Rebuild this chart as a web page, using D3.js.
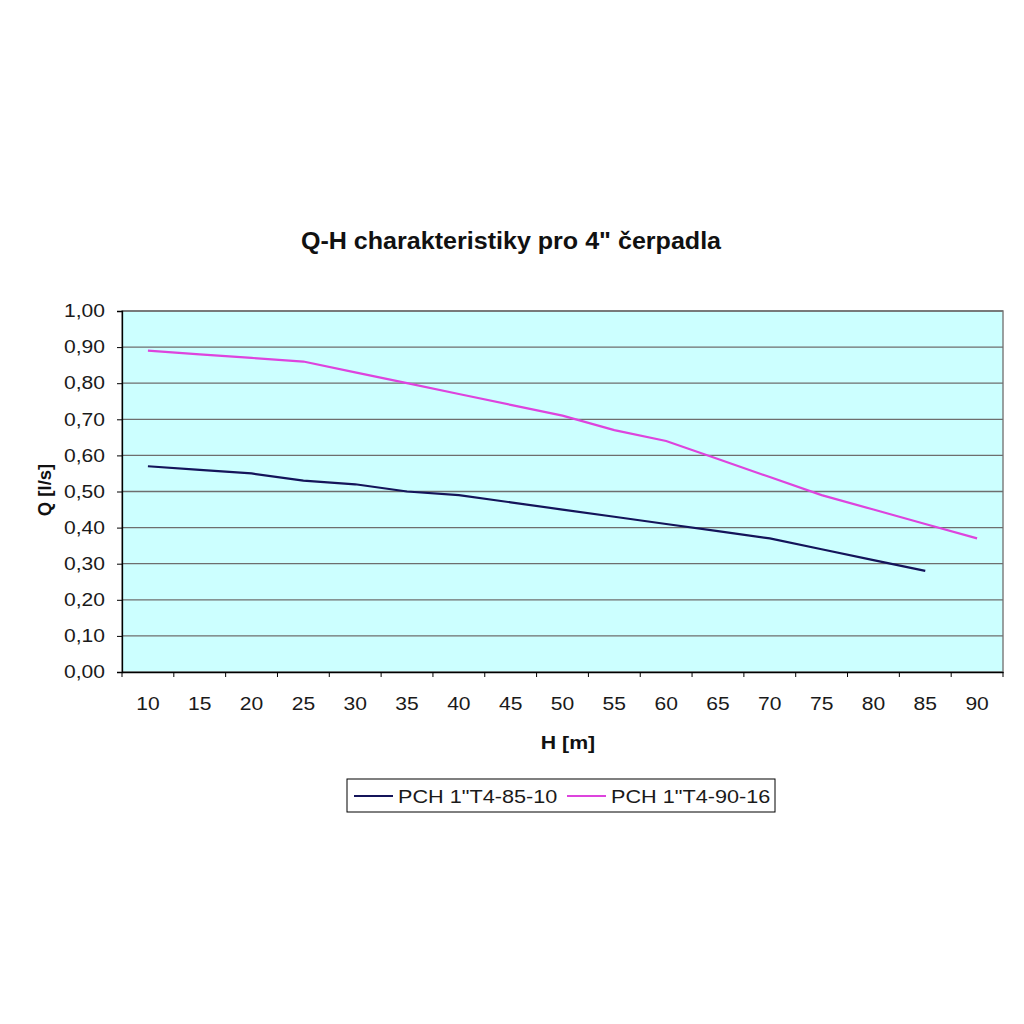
<!DOCTYPE html>
<html><head><meta charset="utf-8">
<script src="https://cdn.jsdelivr.net/npm/d3@7/dist/d3.min.js"></script>
<style>body{margin:0;background:#fff}svg{font-family:"Liberation Sans",Arial,sans-serif}</style>
</head><body><svg id="c" width="1024" height="1024"></svg>
<script>
const categories = [10,15,20,25,30,35,40,45,50,55,60,65,70,75,80,85,90];
const series1Name = 'PCH 1"T4-85-10';
const series1 = [0.57,0.56,0.55,0.53,0.52,0.50,0.49,0.47,0.45,0.43,0.41,0.39,0.37,0.34,0.31,0.28,null];
const series2Name = 'PCH 1"T4-90-16';
const series2 = [0.89,0.88,0.87,0.86,0.83,0.80,0.77,0.74,0.71,0.67,0.64,0.59,0.54,0.49,0.45,0.41,0.37];
const yTicks = [0,0.1,0.2,0.3,0.4,0.5,0.6,0.7,0.8,0.9,1.0];

const svg = d3.select("#c");
const L=122, R=1003, T=311, B=672;
const x = d3.scaleBand().domain(categories).range([L,R]);
const y = d3.scaleLinear().domain([0,1]).range([B,T]);

function stretch(sel,k){
  sel.each(function(){
    const w=this.getComputedTextLength();
    d3.select(this).attr("textLength",w*k).attr("lengthAdjust","spacingAndGlyphs");
  });
}

svg.append("rect").attr("x",L).attr("y",T).attr("width",R-L).attr("height",B-T)
  .attr("fill","#ccffff").attr("stroke","#808080").attr("stroke-width",1.5);

svg.append("g").selectAll("line").data(yTicks.slice(1)).join("line")
  .attr("x1",L).attr("x2",R).attr("y1",d=>y(d)).attr("y2",d=>y(d))
  .attr("stroke","#6e6e6e").attr("stroke-width",1.3);

const fmt = d => d.toFixed(2).replace(".",",");
const yAxis = svg.append("g").attr("transform",`translate(${L},0)`)
  .call(d3.axisLeft(y).tickValues(yTicks).tickFormat(fmt).tickSize(5).tickPadding(12));
yAxis.select(".domain").attr("stroke","#000").attr("stroke-width",1.3);
yAxis.selectAll(".tick line").attr("stroke","#000");
yAxis.selectAll("text").attr("font-size",18).attr("fill","#1a1a1a").call(stretch,1.17);

const xAxis = svg.append("g").attr("transform",`translate(0,${B})`)
  .call(d3.axisBottom(x).tickSize(0).tickPadding(25));
xAxis.select(".domain").attr("stroke","#000").attr("stroke-width",1.3);
xAxis.selectAll("text").attr("font-size",18).attr("fill","#1a1a1a").call(stretch,1.17);
// tick marks between categories
svg.append("g").selectAll("line").data(categories.concat(["end"])).join("line")
  .attr("x1",(d,i)=>L+i*x.bandwidth()).attr("x2",(d,i)=>L+i*x.bandwidth())
  .attr("y1",B).attr("y2",B+5).attr("stroke","#000").attr("stroke-width",1);

const line = d3.line().defined(d=>d.v!=null).x(d=>x(d.c)+x.bandwidth()/2).y(d=>y(d.v));
svg.append("path").datum(categories.map((c,i)=>({c,v:series1[i]})))
  .attr("d",line).attr("fill","none").attr("stroke","#14145a").attr("stroke-width",2.2);
svg.append("path").datum(categories.map((c,i)=>({c,v:series2[i]})))
  .attr("d",line).attr("fill","none").attr("stroke","#dd44dd").attr("stroke-width",2.2);

svg.append("text").attr("x",511).attr("y",249).attr("text-anchor","middle")
  .attr("font-size",23).attr("font-weight","bold").attr("fill","#111")
  .text('Q-H charakteristiky pro 4" čerpadla').call(stretch,1.09);
svg.append("text").attr("x",568).attr("y",749).attr("text-anchor","middle")
  .attr("font-size",18.5).attr("font-weight","bold").attr("fill","#111").text("H [m]").call(stretch,1.15);
svg.append("text").attr("transform","translate(51,490) rotate(-90)").attr("text-anchor","middle")
  .attr("font-size",18.5).attr("font-weight","bold").attr("fill","#111").text("Q [l/s]");

// legend
const lg = svg.append("g");
lg.append("rect").attr("x",347).attr("y",779).attr("width",428).attr("height",33)
  .attr("fill","#fff").attr("stroke","#000").attr("stroke-width",1);
const items=[{n:series1Name,c:"#14145a",x:354},{n:series2Name,c:"#dd44dd",x:567}];
items.forEach(it=>{
  lg.append("line").attr("x1",it.x).attr("x2",it.x+39).attr("y1",796).attr("y2",796)
    .attr("stroke",it.c).attr("stroke-width",2);
  lg.append("text").attr("x",it.x+44).attr("y",803).attr("font-size",18.5).attr("fill","#1a1a1a")
    .text(it.n).call(stretch,1.17);
});
</script></body></html>
